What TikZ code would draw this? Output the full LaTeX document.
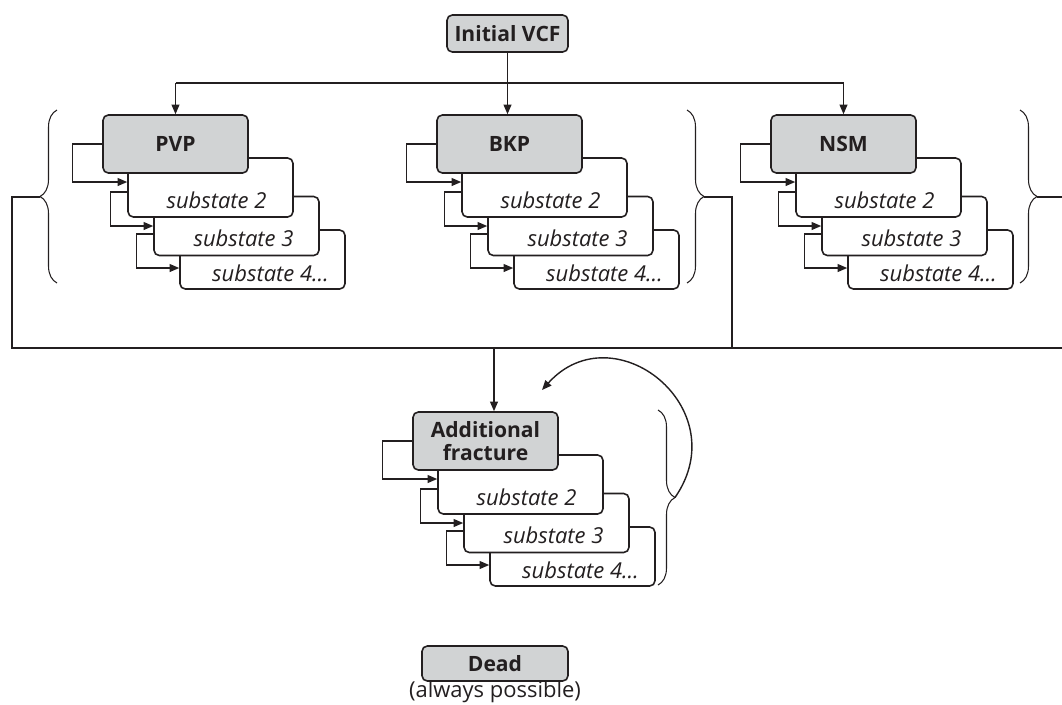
\documentclass[tikz,border=0pt]{standalone}
\usepackage{fontspec}
\setmainfont{Open Sans}
\usetikzlibrary{arrows.meta,decorations.pathreplacing}

\definecolor{boxgray}{HTML}{D1D3D4}
\definecolor{ink}{HTML}{231F20}

\tikzset{
  mainbox/.style={draw=ink, fill=boxgray, rounded corners=3pt, line width=0.9pt,
    minimum width=2.9cm, minimum height=1.16cm, inner sep=0pt, text=ink,
    font=\fontsize{12}{13.5}\selectfont\bfseries, align=center},
  subbox/.style={draw=ink, fill=white, rounded corners=3pt, line width=0.9pt,
    minimum width=3.3cm, minimum height=1.18cm, inner sep=0pt},
  subtext/.style={inner sep=0pt, text=ink, font=\fontsize{12.5}{14}\selectfont\itshape},
  conn/.style={draw=ink, line width=0.8pt},
  arr/.style={conn, -{Triangle[length=5.5pt,width=4.5pt]}},
  grp/.style={draw=ink, line width=0.6pt, decorate, decoration={brace, amplitude=0.34cm}},
}

% stack of a state and its substates: name, top-left x, top-left y (px), label
\newcommand{\statestack}[4]{%
  % lowest box first, so the upper ones cover it
  \node[subbox] (#14) at (#2+159.5, #3+144.5) {};
  \node[subbox] (#13) at (#2+133.5, #3+111) {};
  \node[subbox] (#12) at (#2+107.5, #3+72.5) {};
  \node[mainbox] (#1) at (#2+72.5, #3+29) {#4};
  \node[subtext] (#12t) at ([shift={(6,12.5)}]#12.center) {substate 2};
  \node[subtext] (#13t) at ([shift={(7,12.5)}]#13.center) {substate 3};
  \node[subtext] (#14t) at ([shift={(8,13.5)}]#14.center) {substate 4…};
  % self transitions
  \draw[arr] (#1.west) -- ++(-30,0) |- ([shift={(0,-5.5)}]#12.west);
  \draw[arr] ([shift={(0,4.5)}]#12.west) -- ++(-17,0) |- (#13.west);
  \draw[arr] ([shift={(0,8)}]#13.west) -- ++(-17,0) |- ([shift={(0,8.5)}]#14.west);
}

\begin{document}
\begin{tikzpicture}[x=0.02cm, y=-0.02cm]
  \useasboundingbox (0,0) rectangle (1062,704);

  % Initial state
  \node[mainbox, minimum width=2.42cm, minimum height=0.74cm] (vcf) at (507.5,33.5) {Initial VCF};

  % Three first states
  \statestack{pvp}{103}{115}{PVP}
  \statestack{bkp}{437}{115}{BKP}
  \statestack{nsm}{771}{115}{NSM}

  % Split from the initial state
  \coordinate (split) at (507.5,83);
  \draw[conn] (split -| pvp) -- (split -| nsm);
  \draw[arr] (vcf.south) -- (vcf.south |- bkp.north);
  \draw[arr] (split -| pvp) -- (pvp.north);
  \draw[arr] (split -| nsm) -- (nsm.north);

  % Braces round the groups
  \draw[grp] (57,283) -- (57,110);
  \draw[grp] (687,110) -- (687,283);
  \draw[grp] (1020,110) -- (1020,283);
  \coordinate (bpvp) at (40,197);
  \coordinate (bbkp) at (704,197);
  \coordinate (bnsm) at (1037,197);

  % Collecting line
  \coordinate (lc) at (12,348);
  \coordinate (rc) at (1062,348);
  \coordinate (mc) at (732,348);
  \coordinate (jn) at (494,348);
  \coordinate (re) at (1062,197);
  \draw[conn] (bpvp) -| (lc) -- (rc);
  \draw[conn] (bbkp) -| (mc);
  \draw[conn] (bnsm) -- (re);

  % Additional fracture
  \statestack{af}{413}{412}{Additional\\fracture}
  \draw[arr] (jn) -- (jn |- af.north);
  \draw[grp] (658,410) -- (658,585);
  \coordinate (baf) at (675,497.5);
  \coordinate (loop) at (542,390);
  \draw[arr] (baf) .. controls (737,408) and (613.5,310.6) .. (loop);

  % Dead
  \node[mainbox, minimum width=2.92cm, minimum height=0.7cm] (dead) at (495,663.5) {Dead};
  \node[inner sep=0pt, text=ink, font=\fontsize{12.5}{14}\selectfont] (deadnote) at (495,692) {(always possible)};
\end{tikzpicture}
\end{document}
